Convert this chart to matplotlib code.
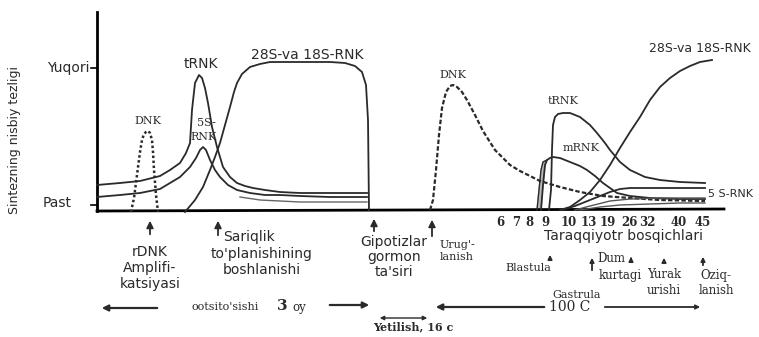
import matplotlib
matplotlib.use("Agg")
import matplotlib.pyplot as plt

# schematic curves, drawn in the page coordinate frame (x right, y down)
# levels: baseline ~210, "Past" ~205, "Yuqori" ~68

# oocyte growth phase
dnk_left_x = [131, 134, 137, 140, 142, 144, 146, 148, 150, 152, 153, 154, 156, 158]
dnk_left_y = [212, 198, 175, 152, 140, 134, 132, 131, 133, 140, 152, 170, 195, 212]

trnk_left_x = [97, 120, 140, 160, 170, 180, 186, 190, 192, 195, 199, 202, 205, 208, 212, 217,
               223, 230, 237, 245, 253, 265, 280, 300, 330, 367]
trnk_left_y = [185, 183, 181, 176, 170, 163, 153, 143, 110, 83, 75, 78, 88, 103, 127, 147,
               167, 177, 183, 186, 188, 190, 192, 193, 193, 193]

s5_left_x = [97, 120, 140, 160, 170, 180, 190, 196, 200, 203, 206, 210, 215, 220, 228, 237,
             250, 265, 280, 300, 330, 367]
s5_left_y = [197, 195, 193, 189, 183, 177, 167, 158, 150, 147, 150, 160, 170, 177, 185, 190,
             193, 195, 195, 196, 197, 197]

band_left_x = [240, 260, 280, 300, 340, 367]
band_left_y = [197, 200, 201, 202, 202, 202]

r28_left_x = [185, 195, 203, 210, 215, 220, 225, 230, 234, 237, 242, 250, 260, 270, 300, 330,
              345, 355, 362, 366, 368, 369]
r28_left_y = [212, 200, 187, 170, 157, 143, 125, 107, 92, 83, 74, 67, 64, 62, 62, 62,
              63, 66, 72, 85, 120, 210]

# embryonic development
dnk_x = [430, 433, 436, 439, 442, 446, 450, 453, 457, 462, 467, 475, 483, 495, 510, 520, 540,
         560, 580, 603, 630, 660, 705]
dnk_y = [210, 200, 170, 135, 108, 92, 86, 85, 87, 92, 100, 115, 131, 150, 165, 171, 181,
         187, 192, 196, 198, 200, 201]

trnk_x = [549, 551, 552, 553, 555, 558, 563, 570, 580, 590, 597, 605, 610, 620, 630, 645, 660,
          680, 705]
trnk_y = [210, 190, 150, 125, 117, 114, 113, 113, 117, 125, 133, 143, 150, 162, 170, 177, 180,
          182, 183]

mrnk_x = [541, 543, 545, 547, 550, 553, 560, 570, 580, 587, 595, 603, 610, 617, 630, 650, 680, 705]
mrnk_y = [210, 185, 165, 160, 158, 157, 158, 162, 166, 170, 176, 183, 188, 193, 196, 198, 199, 199]

mrnk_band_x = [537, 539, 541, 543, 547]
mrnk_band_y = [210, 190, 170, 162, 160]

r28_x = [560, 570, 580, 590, 600, 610, 620, 630, 640, 650, 660, 670, 680, 690, 700, 712]
r28_y = [210, 207, 200, 192, 180, 165, 148, 132, 117, 100, 87, 78, 71, 66, 62, 60]

s5_x = [562, 575, 590, 600, 610, 620, 630, 645, 660, 680, 705]
s5_y = [210, 206, 200, 196, 192, 189, 188, 188, 188, 188, 188]

extra1_x = [575, 590, 610, 630, 660, 705]
extra1_y = [210, 206, 201, 199, 198, 198]
extra2_x = [580, 600, 620, 650, 680, 705]
extra2_y = [210, 207, 205, 204, 203, 203]

# developmental stage numbers along the axis
stage_labels = ["6", "7", "8", "9", "10", "13", "19", "26", "32", "40", "45"]
stage_x = [500, 516, 529, 545, 569, 589, 608, 629, 647, 679, 703]

SANS = "DejaVu Sans"
SERIF = "DejaVu Serif"
INK = "#2a2a2a"

fig = plt.figure(figsize=(7.59, 3.37), dpi=100)
ax = fig.add_axes([0, 0, 1, 1])
ax.set_xlim(0, 759)
ax.set_ylim(337, 0)
ax.axis("off")

# axes
ax.plot([97, 97], [12, 211], color="k", lw=2)
ax.plot([97, 724], [211, 209], color="k", lw=2)
ax.plot([91, 97], [68, 68], color="k", lw=1.2)
ax.plot([91, 97], [205, 205], color="k", lw=1.2)
ax.text(90, 68, "Yuqori", ha="right", va="center", fontsize=10, family=SANS, color=INK)
ax.text(72, 203, "Past", ha="right", va="center", fontsize=10, family=SANS, color=INK)
ax.text(15, 140, "Sintezning nisbiy tezligi", rotation=90, ha="center", va="center",
        fontsize=9, family=SANS, color=INK)

kw = dict(color=INK, lw=1.3)
ax.plot(dnk_left_x, dnk_left_y, ls=(0, (1, 1)), color=INK, lw=1.8)
ax.plot(trnk_left_x, trnk_left_y, **kw)
ax.plot(s5_left_x, s5_left_y, **kw)
ax.plot(band_left_x, band_left_y, color="#666666", lw=1.0)
ax.plot(r28_left_x, r28_left_y, **kw)

ax.plot(dnk_x, dnk_y, ls=(0, (2, 1)), color=INK, lw=1.6)
ax.plot(trnk_x, trnk_y, **kw)
ax.fill(mrnk_band_x + mrnk_x[:4][::-1], mrnk_band_y + mrnk_y[:4][::-1], color="#bbbbbb")
ax.plot(mrnk_band_x, mrnk_band_y, color=INK, lw=1.0)
ax.plot(mrnk_x, mrnk_y, **kw)
ax.plot(r28_x, r28_y, **kw)
ax.plot(s5_x, s5_y, **kw)
ax.plot(extra1_x, extra1_y, color="#555555", lw=1.0)
ax.plot(extra2_x, extra2_y, color="#555555", lw=1.0)

# curve labels
ax.text(148, 121, "DNK", ha="center", va="center", fontsize=8, family=SERIF, color=INK)
ax.text(201, 64, "tRNK", ha="center", va="center", fontsize=10, family=SANS, color=INK)
ax.text(206, 123, "5S-", ha="center", va="center", fontsize=8, family=SERIF, color=INK)
ax.text(204, 137, "RNK", ha="center", va="center", fontsize=8, family=SERIF, color=INK)
ax.text(307, 55, "28S-va 18S-RNK", ha="center", va="center", fontsize=10, family=SANS, color=INK)
ax.text(453, 75, "DNK", ha="center", va="center", fontsize=8, family=SERIF, color=INK)
ax.text(563, 101, "tRNK", ha="center", va="center", fontsize=8, family=SERIF, color=INK)
ax.text(581, 148, "mRNK", ha="center", va="center", fontsize=8, family=SERIF, color=INK)
ax.text(700, 48, "28S-va 18S-RNK", ha="center", va="center", fontsize=9, family=SANS, color=INK)
ax.text(708, 194, "5 S-RNK", ha="left", va="center", fontsize=8, family=SANS, color=INK)

for lab, x in zip(stage_labels, stage_x):
    ax.text(x, 223, lab, ha="center", va="center", fontsize=8.5, family=SERIF,
            fontweight="bold", color=INK)
ax.text(623, 236, "Taraqqiyotr bosqichlari", ha="center", va="center", fontsize=10,
        family=SANS, color=INK)


def up_arrow(x, y0, y1, lw=1.3, head=5):
    ax.annotate("", xy=(x, y1), xytext=(x, y0),
                arrowprops=dict(arrowstyle="-|>", color=INK, lw=lw,
                                mutation_scale=head * 2))


# event arrows and captions
up_arrow(150, 237, 218)
ax.text(150, 268, "rDNK\nAmplifi-\nkatsiyasi", ha="center", va="center", fontsize=10,
        family=SANS, color=INK, linespacing=1.15)
up_arrow(218, 238, 218)
ax.text(223, 237, "Sariqlik", ha="left", va="center", fontsize=10, family=SANS, color=INK)
ax.text(262, 262, "to'planishining\nboshlanishi", ha="center", va="center", fontsize=10,
        family=SANS, color=INK, linespacing=1.1)
up_arrow(374, 234, 216)
ax.text(394, 257, "Gipotizlar\ngormon\nta'siri", ha="center", va="center", fontsize=10,
        family=SANS, color=INK, linespacing=1.05)
up_arrow(432, 239, 217)
ax.text(457, 251, "Urug'-\nlanish", ha="center", va="center", fontsize=8, family=SERIF,
        color=INK, linespacing=1.3)

up_arrow(550, 262, 252, head=3)
ax.text(528, 268, "Blastula", ha="center", va="center", fontsize=8, family=SERIF, color=INK)
up_arrow(592, 273, 255, head=3)
ax.text(597, 259, "Dum", ha="left", va="center", fontsize=8.5, family=SERIF, color=INK)
ax.text(620, 275, "kurtagi", ha="center", va="center", fontsize=8.5, family=SERIF, color=INK)
ax.text(577, 295, "Gastrula", ha="center", va="center", fontsize=8, family=SERIF, color=INK)
up_arrow(631, 262, 254, head=3)
up_arrow(664, 265, 255, head=3)
ax.text(664, 283, "Yurak\nurishi", ha="center", va="center", fontsize=8.5, family=SERIF,
        color=INK, linespacing=1.3)
up_arrow(703, 268, 254, head=3)
ax.text(716, 283, "Oziq-\nlanish", ha="center", va="center", fontsize=8.5, family=SERIF,
        color=INK, linespacing=1.3)

# time spans along the bottom
arrow_kw = dict(arrowstyle="-|>", color=INK, lw=1.6, mutation_scale=9)
ax.annotate("", xy=(99, 308), xytext=(160, 308), arrowprops=arrow_kw)
ax.text(225, 307, "ootsito'sishi", ha="center", va="center", fontsize=8, family=SERIF, color=INK)
ax.text(282, 306, "3", ha="center", va="center", fontsize=11, family=SERIF,
        fontweight="bold", color=INK)
ax.text(299, 308, "oy", ha="center", va="center", fontsize=8.5, family=SERIF, color=INK)
ax.annotate("", xy=(372, 305), xytext=(327, 305), arrowprops=arrow_kw)

ax.annotate("", xy=(377, 318), xytext=(430, 318),
            arrowprops=dict(arrowstyle="<|-|>", color=INK, lw=1.0, mutation_scale=6))
ax.text(413, 327, "Yetilish, 16 c", ha="center", va="center", fontsize=8, family=SERIF,
        fontweight="bold", color=INK)

ax.annotate("", xy=(433, 307), xytext=(547, 307), arrowprops=arrow_kw)
ax.text(570, 307, "100 C", ha="center", va="center", fontsize=10, family=SERIF, color=INK)
ax.annotate("", xy=(703, 307), xytext=(602, 307),
            arrowprops=dict(arrowstyle="-|>", color=INK, lw=1.3, mutation_scale=6))

fig.savefig("out.png", dpi=100, facecolor="white")
